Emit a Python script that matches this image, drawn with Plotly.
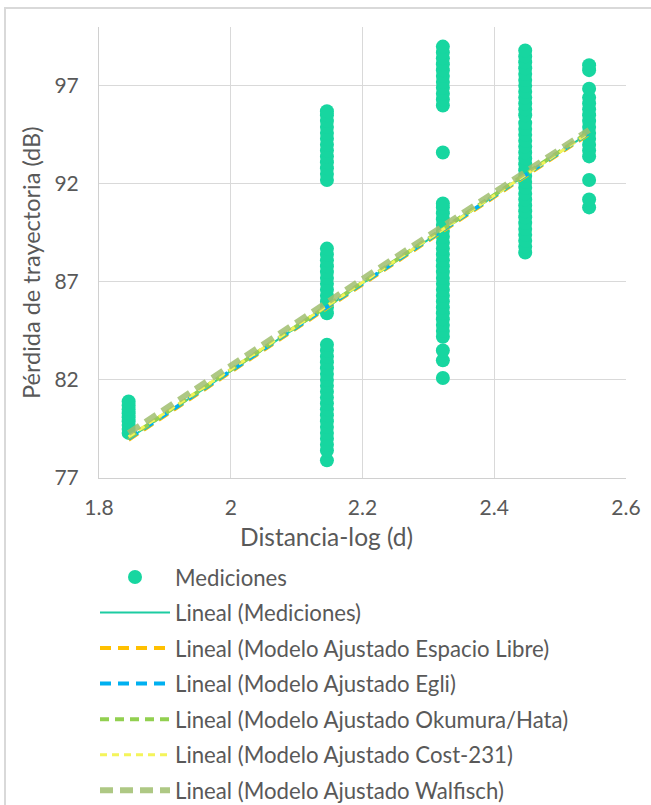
import plotly.graph_objects as go

# ---- data ----
log_d = [1.845, 2.146, 2.322, 2.447, 2.544]

loss_d1 = [79.3, 79.5, 79.7, 79.9, 80.1, 80.3, 80.5, 80.7, 80.9]
loss_d2 = [77.9, 78.4, 78.7, 79.0, 79.3, 79.6, 79.9, 80.2, 80.5, 80.8, 81.1, 81.4,
           81.7, 82.0, 82.3, 82.6, 82.9, 83.2, 83.5, 83.8,
           85.4, 85.7, 86.0, 86.3, 86.6, 86.9, 87.2, 87.5, 87.8, 88.1, 88.4, 88.7,
           92.2, 92.5, 92.8, 93.1, 93.4, 93.7, 94.0, 94.3, 94.6, 94.9, 95.2, 95.5, 95.7]
loss_d3 = [82.1, 83.0, 83.5,
           84.2, 84.5, 84.8, 85.1, 85.4, 85.7, 86.0, 86.3, 86.6, 86.9, 87.2, 87.5,
           87.8, 88.1, 88.4, 88.7, 89.0, 89.3, 89.6, 89.9, 90.2, 90.5, 90.8, 91.0,
           93.6,
           96.0, 96.3, 96.6, 96.9, 97.2, 97.5, 97.8, 98.1, 98.4, 98.7, 99.0]
loss_d4 = [88.5, 88.8, 89.1, 89.4, 89.7, 90.0, 90.3, 90.6, 90.9, 91.2, 91.5, 91.8,
           92.1, 92.4, 92.7, 93.0, 93.3, 93.6, 93.9, 94.2, 94.5, 94.8, 95.1, 95.5,
           95.8, 96.1, 96.4, 96.7, 97.0, 97.3, 97.6, 97.9, 98.2, 98.5, 98.8]
loss_d5 = [90.8, 91.2, 92.2,
           93.4, 93.7, 94.0, 94.3, 94.6, 94.9, 95.2, 95.5, 95.8, 96.1, 96.4, 96.85,
           97.8, 98.05]

# trendline end points (x range of the data) per series
trend_x = [1.845, 2.544]
trend_mediciones = [79.0, 94.6]
trend_espacio_libre = [78.95, 94.55]
trend_egli = [79.0, 94.6]
trend_okumura = [79.05, 94.65]
trend_cost231 = [79.1, 94.6]
trend_walfisch = [79.3, 94.75]

legend_names = [
    "Mediciones",
    "Lineal (Mediciones)",
    "Lineal (Modelo Ajustado Espacio Libre)",
    "Lineal (Modelo Ajustado Egli)",
    "Lineal (Modelo Ajustado Okumura/Hata)",
    "Lineal (Modelo Ajustado Cost-231)",
    "Lineal (Modelo Ajustado Walfisch)",
]

# ---- build ----
xs, ys = [], []
for xv, col in zip(log_d, [loss_d1, loss_d2, loss_d3, loss_d4, loss_d5]):
    xs += [xv] * len(col)
    ys += col

FONT = "Lato, 'Open Sans', sans-serif"
GREY = "#595959"

fig = go.Figure()
fig.add_trace(go.Scatter(
    x=xs, y=ys, mode="markers", name=legend_names[0], legendgroup="g0",
    marker=dict(color="#17D6A0", size=14, line=dict(width=0)),
))

line_specs = [
    (trend_mediciones, "#1CCCA2", 2, "solid"),
    (trend_espacio_libre, "#FFC000", 4, "11px,7px"),
    (trend_egli, "#00B0F0", 4, "11px,7px"),
    (trend_okumura, "#92D050", 4, "9px,6px"),
    (trend_cost231, "#F4F45A", 3, "7px,5px"),
    (trend_walfisch, "rgba(160,190,110,0.85)", 6, "13px,7px"),
]
for i, (ty, col, w, dash) in enumerate(line_specs, start=1):
    fig.add_trace(go.Scatter(
        x=trend_x, y=ty, mode="lines", name=legend_names[i], legendgroup=f"g{i}",
        line=dict(color=col, width=w, dash=dash),
    ))

W, H = 651, 805
ml, mr, mt, mb = 99, 25, 27, 327
pw, ph = W - ml - mr, H - mt - mb

def px_x(p):
    return (p - ml) / pw

def px_y(p):
    return (H - mb - p) / ph

fig.update_layout(
    width=W, height=H,
    margin=dict(l=ml, r=mr, t=mt, b=mb, autoexpand=False),
    paper_bgcolor="white", plot_bgcolor="white",
    font=dict(family=FONT, color=GREY, size=20),
    showlegend=True,
    legend=dict(
        x=px_x(95), y=px_y(556), xanchor="left", yanchor="top",
        orientation="v", traceorder="grouped", tracegroupgap=3.7,
        itemwidth=70, font=dict(family=FONT, size=22.2, color=GREY),
        bgcolor="rgba(0,0,0,0)",
    ),
    xaxis=dict(
        range=[1.8, 2.6], tick0=1.8, dtick=0.2, showgrid=True,
        gridcolor="#D9D9D9", gridwidth=1, showline=True, linecolor="#D0D0D0",
        linewidth=1, zeroline=False, ticks="outside", ticklen=11,
        tickcolor="rgba(0,0,0,0)", tickfont=dict(size=21, color=GREY),
    ),
    yaxis=dict(
        range=[77, 100], tick0=77, dtick=5, showgrid=True,
        gridcolor="#D9D9D9", gridwidth=1, showline=True, linecolor="#D0D0D0",
        linewidth=1, zeroline=False, ticks="outside", ticklen=15,
        tickcolor="rgba(0,0,0,0)", tickfont=dict(size=21, color=GREY),
    ),
    annotations=[
        dict(text="Distancia-log (d)", xref="paper", yref="paper",
             x=px_x(326), y=px_y(536), xanchor="center", yanchor="middle",
             showarrow=False, font=dict(size=24.5, color=GREY, family=FONT)),
        dict(text="Pérdida de trayectoria (dB)", xref="paper", yref="paper",
             x=px_x(31), y=px_y(263), xanchor="center", yanchor="middle",
             textangle=-90, showarrow=False,
             font=dict(size=23.5, color=GREY, family=FONT)),
    ],
    shapes=[
        dict(type="rect", xref="paper", yref="paper",
             x0=px_x(5), x1=px_x(660), y0=px_y(815), y1=px_y(8),
             line=dict(color="#D9D9D9", width=2), fillcolor="rgba(0,0,0,0)",
             layer="below"),
    ],
)

fig.write_html(
    "out.html",
    config={"displayModeBar": False},
    post_script="document.body.style.margin='0';document.body.style.padding='0';",
)
